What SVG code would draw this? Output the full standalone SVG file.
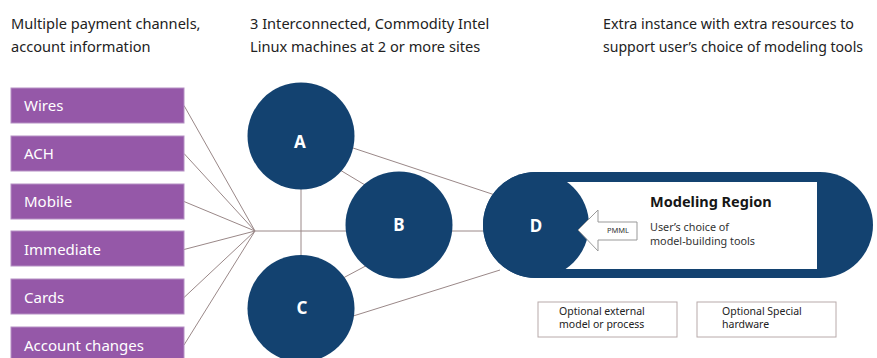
<svg xmlns="http://www.w3.org/2000/svg" width="877" height="358" viewBox="0 0 877 358">
<style>
.hdr{font-family:"Noto Sans","Liberation Sans",sans-serif;font-size:14.6px;fill:#222}
.ch rect{fill:#9558a8;stroke:#b590c4;stroke-width:1}
.ch text{font-family:"Noto Sans","Liberation Sans",sans-serif;font-size:15px;fill:#fff}
.node circle{fill:#134270}
.lbl{font-family:"Noto Sans","Liberation Sans",sans-serif;font-size:17px;font-weight:bold;fill:#fff;text-anchor:middle}
.con line{stroke:#9a8888;stroke-width:1}
.opt rect{fill:#fff;stroke:#b8aaaa;stroke-width:1}
.opt text{font-family:"Noto Sans","Liberation Sans",sans-serif;font-size:10.5px;fill:#222}
</style>
<rect width="877" height="358" fill="#fff"/>
<g id="headers">
<text class="hdr" x="11" y="29">Multiple payment channels,</text>
<text class="hdr" x="11" y="52">account information</text>
<text class="hdr" x="250" y="29">3 Interconnected, Commodity Intel</text>
<text class="hdr" x="250" y="52">Linux machines at 2 or more sites</text>
<text class="hdr" x="603" y="29" textLength="251" lengthAdjust="spacingAndGlyphs">Extra instance with extra resources to</text>
<text class="hdr" x="603" y="52" textLength="260" lengthAdjust="spacingAndGlyphs">support user’s choice of modeling tools</text>
</g>
<g id="connectors" class="con">
<line x1="184" y1="105.5" x2="255" y2="231"/>
<line x1="184" y1="153.5" x2="255" y2="231"/>
<line x1="184" y1="201.5" x2="255" y2="231"/>
<line x1="184" y1="249.5" x2="255" y2="231"/>
<line x1="184" y1="297.5" x2="255" y2="231"/>
<line x1="184" y1="345" x2="255" y2="231"/>
<line x1="255" y1="231" x2="350" y2="231"/>
<line x1="301" y1="180" x2="301" y2="262"/>
<line x1="330" y1="164" x2="375" y2="191"/>
<line x1="330" y1="285" x2="375" y2="261"/>
<line x1="445" y1="231" x2="495" y2="231"/>
<line x1="350" y1="147" x2="495" y2="195"/>
<line x1="350" y1="317" x2="500" y2="270"/>
</g>
<g id="wires" class="ch"><rect x="11" y="88" width="173" height="35"/><text x="24" y="111">Wires</text></g>
<g id="ach" class="ch"><rect x="11" y="136" width="173" height="35"/><text x="24" y="159">ACH</text></g>
<g id="mobile" class="ch"><rect x="11" y="184" width="173" height="35"/><text x="24" y="207">Mobile</text></g>
<g id="immediate" class="ch"><rect x="11" y="231" width="173" height="35"/><text x="24" y="255">Immediate</text></g>
<g id="cards" class="ch"><rect x="11" y="279" width="173" height="35"/><text x="24" y="303">Cards</text></g>
<g id="account-changes" class="ch"><rect x="11" y="327" width="173" height="35"/><text x="24" y="351">Account changes</text></g>
<g id="node-a" class="node"><circle cx="301" cy="136" r="53.5"/><text class="lbl" x="300" y="148">A</text></g>
<g id="node-b" class="node"><circle cx="399" cy="225" r="53.5"/><text class="lbl" x="399" y="231">B</text></g>
<g id="node-c" class="node"><circle cx="301" cy="308.5" r="53.5"/><text class="lbl" x="302" y="314">C</text></g>
<g id="modeling-region">
<rect x="483" y="172" width="390" height="106" rx="53" fill="#134270"/>
<rect x="560" y="182" width="257" height="87" fill="#fff"/>
<text x="650" y="207" font-family="'Noto Sans','Liberation Sans',sans-serif" font-size="14.5" font-weight="bold" fill="#161616">Modeling Region</text>
<text x="650" y="230.5" font-family="'Noto Sans','Liberation Sans',sans-serif" font-size="10.8" fill="#333">User’s choice of</text>
<text x="650" y="244.5" font-family="'Noto Sans','Liberation Sans',sans-serif" font-size="10.8" fill="#333">model-building tools</text>
</g>
<g id="node-d" class="node"><circle cx="536" cy="225" r="53"/><text class="lbl" x="536" y="232">D</text></g>
<g id="pmml">
<polygon points="578,230 598,210 598,222 637,222 637,240 598,240 598,251" fill="#fff" stroke="#999" stroke-width="1"/>
<text x="618" y="233" font-family="'Noto Sans','Liberation Sans',sans-serif" font-size="7.5" fill="#333" text-anchor="middle">PMML</text>
</g>
<g id="opt-external" class="opt"><rect x="538" y="302" width="139" height="35"/><text x="559" y="315">Optional external</text><text x="559" y="328">model or process</text></g>
<g id="opt-hardware" class="opt"><rect x="697" y="302" width="139" height="35"/><text x="722" y="315">Optional Special</text><text x="722" y="328">hardware</text></g>
</svg>
